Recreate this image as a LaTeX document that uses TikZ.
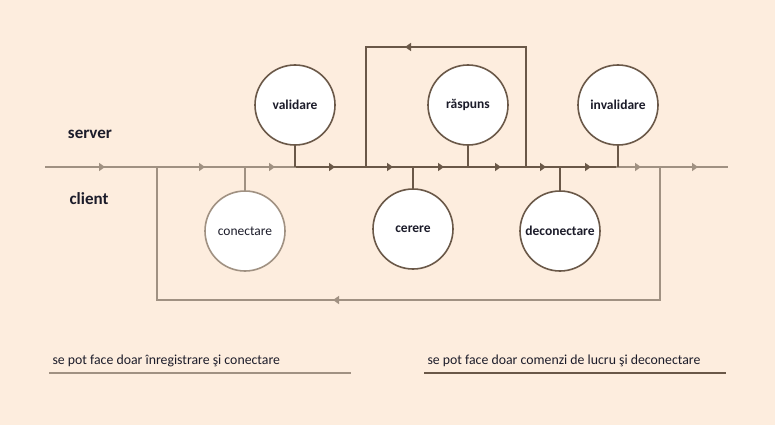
\documentclass[tikz,border=0pt]{standalone}
\usepackage{fontspec}
\setmainfont{Carlito}
\usetikzlibrary{arrows.meta,positioning,calc,decorations.markings}
\definecolor{peach}{RGB}{253,237,222}
\definecolor{lite}{RGB}{160,145,130}
\definecolor{dark}{RGB}{106,88,72}
\definecolor{ink}{RGB}{28,28,42}
\tikzset{mtip/.tip={Triangle[length=6pt,width=8pt]}}

\begin{document}
\begin{tikzpicture}[x=1pt, y=-1pt,
  phase/.style={circle, draw=dark, line width=1.6pt, fill=white, minimum size=80pt, inner sep=0pt, text=ink, font=\bfseries\fontsize{13.5}{15}\selectfont},
  litephase/.style={phase, draw=lite, font=\fontsize{13.5}{15}\selectfont},
  side/.style={text=ink, font=\bfseries\fontsize{17}{20}\selectfont},
  legend/.style={text=ink, anchor=west, font=\fontsize{13.8}{16}\selectfont},
  lw/.style={draw=lite, line width=1.8pt},
  dw/.style={draw=dark, line width=1.8pt},
  tip at/.style={postaction={decorate, decoration={markings, mark=at position #1 with {\arrow{mtip}}}}}
]
\fill[peach] (0,0) rectangle (775,425);

% bus points
\coordinate (start) at (45,167);
\coordinate (open)  at (296,167);
\coordinate (close) at (616,167);
\coordinate (stop)  at (728,167);

% loops
\coordinate (upL) at (366,167);
\coordinate (upR) at (526,167);
\coordinate (topL) at (366,47);
\coordinate (topR) at (526,47);
\coordinate (dnL) at (157,167);
\coordinate (dnR) at (660,167);
\coordinate (botL) at (157,300);
\coordinate (botR) at (660,300);

\node[side] (server) at (90,134) {server};
\node[side] (client) at (89,199) {client};

\node[phase] (validare) at (295,105) {validare};
\node[phase] (raspuns) at (468,105) {răspuns};
\node[phase] (invalidare) at (618,105) {invalidare};
\node[litephase] (conectare) at (245,231) {conectare};
\node[phase] (cerere) at (413,229) {cerere};
\node[phase] (deconectare) at (560,231) {deconectare};

\draw[lw, tip at=60pt, tip at=160pt, tip at=230pt] (start) -- (open);
\draw[dw, tip at=39pt, tip at=97pt, tip at=148pt, tip at=205pt, tip at=250pt, tip at=295pt] (open) -- (close);
\draw[lw, tip at=25pt, tip at=82pt] (close) -- (stop);

\draw[dw, tip at=241pt] (upR) -- (topR) -- (topL) -- (upL);
\draw[lw, tip at=460pt] (dnR) -- (botR) -- (botL) -- (dnL);

\draw[dw] (validare) -- (validare |- open);
\draw[dw] (raspuns) -- (raspuns |- open);
\draw[dw] (invalidare) -- (invalidare |- open);
\draw[lw] (conectare) -- (conectare |- open);
\draw[dw] (cerere) -- (cerere |- open);
\draw[dw] (deconectare) -- (deconectare |- open);

\node[legend] (legA) at (49,361) {se pot face doar înregistrare şi conectare};
\node[legend] (legB) at (424,361) {se pot face doar comenzi de lucru şi deconectare};
\coordinate (legA1) at (49,373);
\coordinate (legA2) at (351,373);
\coordinate (legB1) at (424,373);
\coordinate (legB2) at (726,373);
\draw[lw] (legA1) -- (legA2);
\draw[dw] (legB1) -- (legB2);
\end{tikzpicture}
\end{document}
